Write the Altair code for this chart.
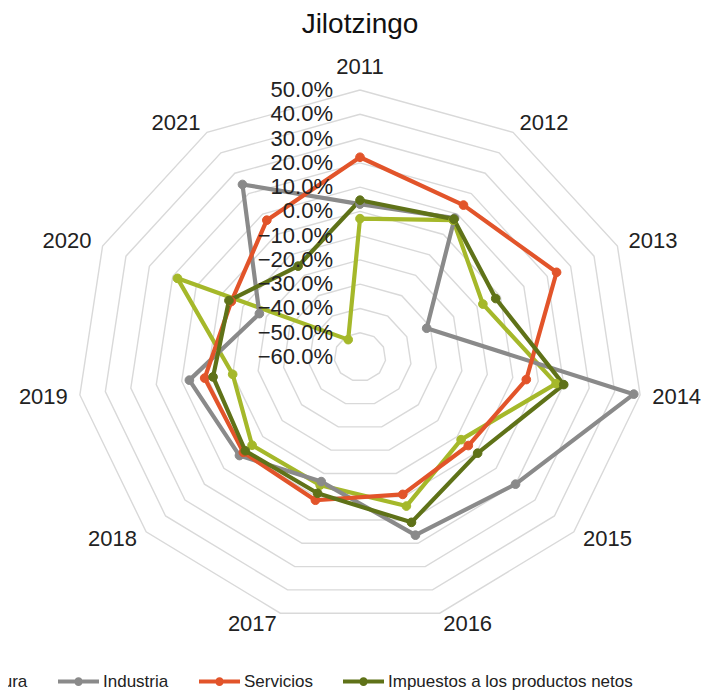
import altair as alt
import pandas as pd

# ---------------- data ----------------
years = ["2011", "2012", "2013", "2014", "2015", "2016",
         "2017", "2018", "2019", "2020", "2021"]
series = ["Agricultura", "Industria", "Servicios",
          "Impuestos a los productos netos"]
agricultura = [-3.0, 7.0, -7.5, 17.0, -8.0, 4.0, -5.0, -4.5, -10.0, 18.0, -51.5]
industria = [3.0, 8.0, -31.5, 47.5, 20.0, 16.5, -6.5, 2.0, 7.0, -17.0, 24.5]
servicios = [22.3, 14.4, 24.0, 5.3, -4.3, -1.0, 1.5, 0.0, 1.0, -5.0, 7.0]
impuestos = [4.6, 7.5, -2.0, 20.0, 0.5, 11.0, -1.5, -1.0, -2.3, -4.0, -15.5]
ticks = [-60, -50, -40, -30, -20, -10, 0, 10, 20, 30, 40, 50]
colors = ["#a5b82a", "#8a8a8a", "#e2542a", "#5f7218"]
title_text = ["Jilotzingo"]

FONT = "Liberation Sans"
N = len(years)
VMIN, VMAX = ticks[0], ticks[-1]
SPAN = VMAX - VMIN

# ---------------- tables built from the arrays ----------------
vals = [agricultura, industria, servicios, impuestos]
rows = []
for s, v in zip(series, vals):
    for k in range(N + 1):  # close the polygon
        rows.append({"series": s, "k": k, "year": years[k % N], "value": v[k % N]})
df = pd.DataFrame(rows)

ring_rows = []
for t in ticks[1:]:
    for k in range(N + 1):
        ring_rows.append({"ring": t, "k": k, "value": t})
rings_df = pd.DataFrame(ring_rows)

ticks_df = pd.DataFrame({"value": ticks})
cats_df = pd.DataFrame({"year": years, "k": list(range(N))})
title_df = pd.DataFrame({"title": title_text})

# ---------------- scales ----------------
PAD_TOP = 36
W, H = 695, 684 - PAD_TOP
x_scale = alt.Scale(domain=[-1.2438, 1.2120], nice=False, zero=False)
y_scale = alt.Scale(domain=[-1.2547, 1.1723], nice=False, zero=False)


def add_xy(ch, rexpr):
    return ch.transform_calculate(
        theta=f"datum.k*2*PI/{N}"
    ).transform_calculate(
        rr=rexpr
    ).transform_calculate(
        X="datum.rr*sin(datum.theta)",
        Y="datum.rr*cos(datum.theta)",
    )


rad = f"(datum.value-({VMIN}))/{SPAN}"
X = alt.X("X:Q", scale=x_scale, axis=None)
Y = alt.Y("Y:Q", scale=y_scale, axis=None)

color_scale = alt.Scale(domain=series, range=colors)
sym_path = ("M-1,0L1,0M-0.11,0a0.11,0.11 0 1,0 0.22,0a0.11,0.11 0 1,0 -0.22,0")
legend = alt.Legend(
    title=None, orient="none", legendX=-109, legendY=615,
    direction="horizontal", symbolType=sym_path, symbolSize=1681,
    symbolStrokeWidth=4, labelFont=FONT, labelFontSize=17, labelColor="#222222",
    labelLimit=2000, labelOffset=2, columnPadding=22, symbolOpacity=1,
)

rings = add_xy(alt.Chart(rings_df), rad).mark_line(
    color="#d9d9d9", strokeWidth=1.4
).encode(x=X, y=Y, detail="ring:N", order="k:Q")

lines = add_xy(alt.Chart(df), rad).mark_line(
    strokeWidth=4.2, strokeJoin="round", opacity=1
).encode(
    x=X, y=Y,
    stroke=alt.Stroke("series:N", scale=color_scale, legend=legend, sort=series),
    order="k:Q",
)

points = add_xy(alt.Chart(df), rad).transform_filter(
    f"datum.k < {N}"
).mark_point(filled=True, size=75, opacity=1, strokeWidth=1).encode(
    x=X, y=Y,
    fill=alt.Fill("series:N", scale=color_scale, legend=legend, sort=series),
    stroke=alt.Stroke("series:N", scale=color_scale, legend=legend, sort=series),
)

tick_labels = alt.Chart(ticks_df).transform_calculate(
    X="0", Y=rad, label="format(datum.value/100, '.1%')"
).mark_text(
    align="right", baseline="middle", dx=-27, font=FONT, fontSize=22, color="#222222"
).encode(x=X, y=Y, text="label:N")

FAC = 1.043
cat_base = alt.Chart(cats_df).transform_calculate(
    theta=f"datum.k*2*PI/{N}"
).transform_calculate(
    s="sin(datum.theta)", c="cos(datum.theta)"
).transform_calculate(
    X=f"{FAC}*datum.s", Y=f"{FAC}*datum.c"
)
cat_left = cat_base.transform_filter("datum.s > 0.05").mark_text(
    align="left", baseline="middle", font=FONT, fontSize=22, color="#222222"
).encode(x=X, y=Y, text="year:N")
cat_right = cat_base.transform_filter("datum.s < -0.05").mark_text(
    align="right", baseline="middle", font=FONT, fontSize=22, color="#222222"
).encode(x=X, y=Y, text="year:N")
cat_top = cat_base.transform_filter("abs(datum.s) <= 0.05").mark_text(
    align="center", baseline="bottom", dy=0, font=FONT, fontSize=22, color="#222222"
).encode(x=X, y=Y, text="year:N")

# chart title, placed above the radar's top through the same scales
title_mark = alt.Chart(title_df).transform_calculate(
    X="0", Y="1.2135"
).mark_text(
    align="center", baseline="alphabetic", font=FONT, fontSize=28, color="#111111"
).encode(x=X, y=Y, text="title:N")

chart = alt.layer(
    rings, lines, points, tick_labels, cat_left, cat_right, cat_top, title_mark
).properties(
    width=W, height=H,
    background="white",
    autosize=alt.AutoSizeParams(type="none"),
    padding={"left": 0, "top": PAD_TOP, "right": 0, "bottom": 0},
).configure_view(stroke=None)

chart.save("out.html", embed_options={"renderer": "svg", "actions": False})
